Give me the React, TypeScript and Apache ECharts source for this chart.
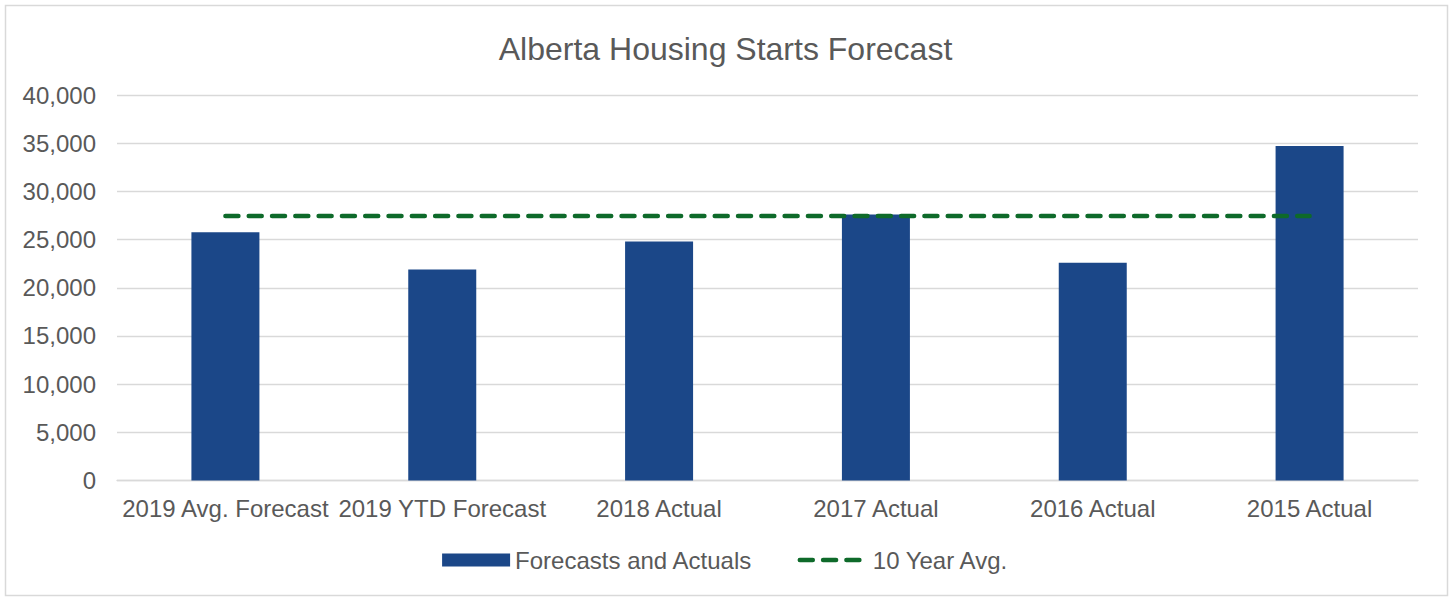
import React, { useEffect, useRef } from "react";
import * as echarts from "echarts";

const categories = [
  "2019 Avg. Forecast",
  "2019 YTD Forecast",
  "2018 Actual",
  "2017 Actual",
  "2016 Actual",
  "2015 Actual",
];
const forecastsAndActuals = [25750, 21900, 24800, 27600, 22600, 34700];
const tenYearAvg = [27450, 27450, 27450, 27450, 27450, 27450];
const yTicks = { min: 0, max: 40000, interval: 5000 };

const FONT = "'Liberation Sans', Arial, sans-serif";
const TEXT = "#595959";
const GRID = "#d9d9d9";
const BAR = "#1b4788";
const GREEN = "#0e6a2a";

export default function App() {
  const ref = useRef<HTMLDivElement>(null);
  useEffect(() => {
    if (!ref.current) return;
    const chart = echarts.init(ref.current, undefined, { renderer: "svg" });
    const dashStyle = {
      color: GREEN,
      width: 4.5,
      type: [13, 10.3],
      cap: "round",
    };
    chart.setOption({
      animation: false,
      backgroundColor: "#ffffff",
      textStyle: { fontFamily: FONT },
      title: {
        text: "Alberta Housing Starts Forecast",
        left: "center",
        top: 28,
        textStyle: { fontFamily: FONT, fontSize: 32, fontWeight: "normal", color: TEXT },
      },
      graphic: [
        {
          type: "rect",
          shape: { x: 5.5, y: 5.5, width: 1442, height: 590 },
          style: { fill: "none", stroke: GRID, lineWidth: 1.5 },
          silent: true,
          z: -10,
        },
      ],
      legend: {
        bottom: 20,
        left: "center",
        itemWidth: 68,
        itemHeight: 13,
        itemGap: 45,
        textStyle: { fontFamily: FONT, fontSize: 24, color: TEXT },
        data: [
          { name: "Forecasts and Actuals", icon: "rect" },
          {
            name: "10 Year Avg.",
            itemStyle: { opacity: 0 },
            lineStyle: dashStyle,
          },
        ],
      },
      grid: { left: 117, right: 33, top: 95, bottom: 116.5, containLabel: false },
      xAxis: {
        type: "category",
        data: categories,
        axisLine: { show: true, lineStyle: { color: GRID, width: 1.3 } },
        axisTick: { show: false },
        axisLabel: {
          interval: 0,
          margin: 16,
          fontFamily: FONT,
          fontSize: 24,
          color: TEXT,
        },
      },
      yAxis: {
        type: "value",
        min: yTicks.min,
        max: yTicks.max,
        interval: yTicks.interval,
        axisLine: { show: false },
        axisTick: { show: false },
        splitLine: { lineStyle: { color: GRID, width: 1.3 } },
        axisLabel: {
          margin: 21,
          fontFamily: FONT,
          fontSize: 24,
          color: TEXT,
          formatter: (v: number) => v.toLocaleString("en-US"),
        },
      },
      series: [
        {
          name: "Forecasts and Actuals",
          type: "bar",
          data: forecastsAndActuals,
          barWidth: 68,
          itemStyle: { color: BAR },
        },
        {
          name: "10 Year Avg.",
          type: "line",
          data: tenYearAvg,
          symbol: "none",
          lineStyle: dashStyle,
          itemStyle: { color: GREEN },
          z: 5,
        },
      ],
    });
    return () => chart.dispose();
  }, []);
  return (
    <div
      ref={ref}
      style={{ position: "absolute", left: 0, top: 0, width: 1451, height: 597 }}
    />
  );
}
